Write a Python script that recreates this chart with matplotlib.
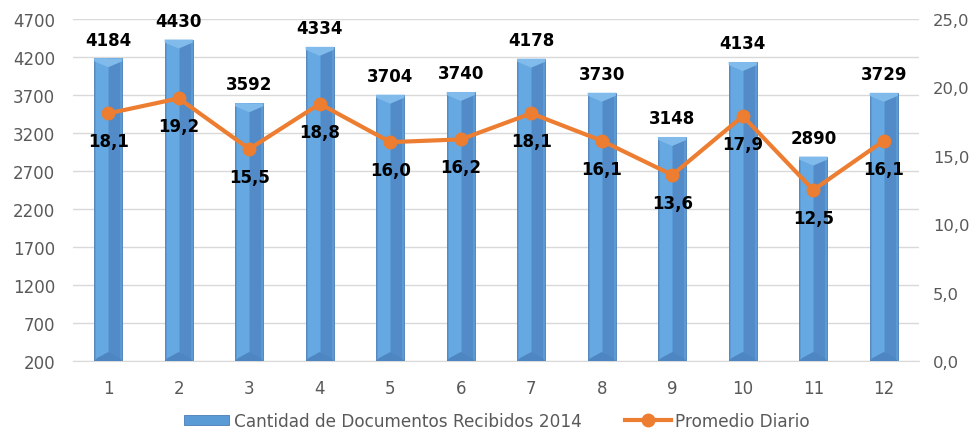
import matplotlib
matplotlib.use("Agg")
import matplotlib.pyplot as plt
from matplotlib.patches import Polygon, Rectangle
from matplotlib.lines import Line2D

# data
meses = [1, 2, 3, 4, 5, 6, 7, 8, 9, 10, 11, 12]
documentos = [4184, 4430, 3592, 4334, 3704, 3740, 4178, 3730, 3148, 4134, 2890, 3729]
promedio = [18.1, 19.2, 15.5, 18.8, 16.0, 16.2, 18.1, 16.1, 13.6, 17.9, 12.5, 16.1]
left_ticks = [200, 700, 1200, 1700, 2200, 2700, 3200, 3700, 4200, 4700]
right_ticks = [0, 5, 10, 15, 20, 25]

grey = "#595959"
grid_col = "#D9D9D9"
orange = "#ED7D31"

plt.rcParams['font.family'] = ['DejaVu Sans']

fig = plt.figure(figsize=(9.8, 4.35), dpi=100)
ax = fig.add_axes([0.0745, 0.1678, 0.8633, 0.7862])
ax.set_xlim(0.5, 12.5)
ax.set_ylim(200, 4700)
ax.set_yticks(left_ticks)
ax.set_xticks(meses)
ax.grid(axis='y', color=grid_col, lw=1)
ax.set_axisbelow(True)
for s in ['top', 'right', 'left']:
    ax.spines[s].set_visible(False)
ax.spines['bottom'].set_color(grid_col)
ax.tick_params(length=0, labelsize=12, labelcolor=grey)
ax.tick_params(axis='y', pad=13)
ax.tick_params(axis='x', pad=13)

# bars with a bevel look
bw = 0.4
ax_w_px = 0.8633 * 980
ax_h_px = 0.7862 * 435
px_x = 12.0 / ax_w_px
px_y = 4500.0 / ax_h_px
for x, v in zip(meses, documentos):
    l, r = x - bw / 2, x + bw / 2
    ax.add_patch(Rectangle((l, 200), bw, v - 200, facecolor="#5B9BD5",
                           edgecolor="#4A7DB5", lw=0.6, zorder=2))
    ax.add_patch(Rectangle((l + 2 * px_x, 200), bw / 2 - 2 * px_x, v - 200,
                           facecolor="#66A8E1", lw=0, zorder=2))
    ax.add_patch(Rectangle((x + 1 * px_x, 200), bw / 2 - 3 * px_x, v - 200,
                           facecolor="#528BC8", lw=0, zorder=2))
    ax.add_patch(Polygon([(l, v), (r, v), (r, v - 3 * px_y), (x, v - 9 * px_y), (l, v - 3 * px_y)],
                         closed=True, facecolor="#80BBEC", edgecolor="none", zorder=3))
    ax.add_patch(Polygon([(l, 200), (l + 3 * px_x, 200 + 3 * px_y), (x, 200 + 9 * px_y), (r - 3 * px_x, 200 + 3 * px_y), (r, 200)],
                         closed=True, facecolor="#4E86C2", edgecolor="none", zorder=3))
    ax.annotate(str(v), (x, v), xytext=(0, 7), textcoords='offset points',
                ha='center', va='bottom', fontsize=12, fontweight='bold', color='black')

ax2 = ax.twinx()
ax2.set_ylim(0, 25)
ax2.set_yticks(right_ticks)
ax2.set_yticklabels([("%.1f" % t).replace('.', ',') for t in right_ticks])
for s in ax2.spines.values():
    s.set_visible(False)
ax2.tick_params(length=0, labelsize=11.8, labelcolor=grey, pad=10)

ax2.plot(meses, promedio, color=orange, lw=3, marker='o', markersize=9, zorder=4)
for x, p in zip(meses, promedio):
    ax2.annotate(("%.1f" % p).replace('.', ','), (x, p), xytext=(0, -20),
                 textcoords='offset points', ha='center', va='center',
                 fontsize=12, fontweight='bold', color='black')

handles = [Rectangle((0, 0), 1, 1, facecolor="#5B9BD5", edgecolor="#4A7DB5", lw=0.6),
           Line2D([], [], color=orange, lw=3, marker='o', markersize=9)]
fig.legend(handles, ["Cantidad de Documentos Recibidos 2014", "Promedio Diario"],
           loc='center', bbox_to_anchor=(0.507, 0.03), ncol=2, frameon=False,
           fontsize=12.2, labelcolor=grey, handlelength=2.7, handleheight=0.6,
           columnspacing=2.6, handletextpad=0.25, borderpad=0.2)

fig.savefig("out.png", dpi=100)
